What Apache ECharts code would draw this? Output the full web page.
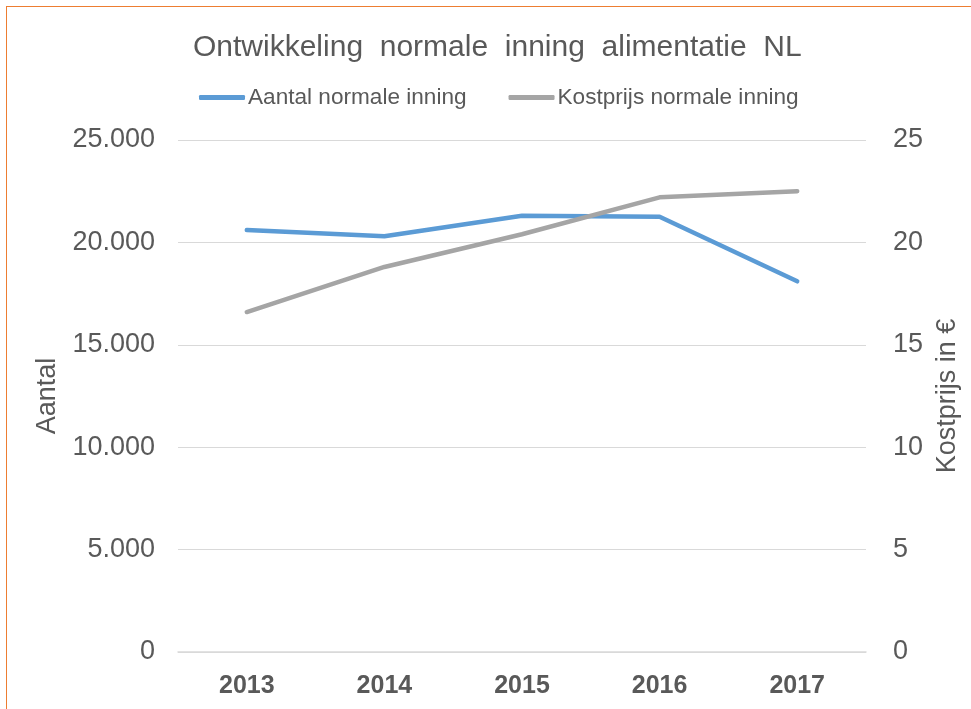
<!DOCTYPE html>
<html>
<head>
<meta charset="utf-8">
<script src="https://cdn.jsdelivr.net/npm/echarts@6/dist/echarts.min.js"></script>
<style>
  html, body { margin: 0; padding: 0; background: #fff; }
  #frame { position: absolute; left: 6px; top: 6px; width: 1000px; height: 800px;
           border-top: 1.5px solid #ED7D31; border-left: 1.5px solid #ED7D31; }
  #chart { position: absolute; left: 0; top: 0; width: 971px; height: 709px; }
</style>
</head>
<body>
<div id="frame"></div>
<div id="chart"></div>
<script>
// data
const years = ['2013', '2014', '2015', '2016', '2017']
const aantal = [20600, 20300, 21300, 21250, 18100]
const kostprijs = [16.6, 18.8, 20.4, 22.2, 22.5]

function dotThousands(v) {
  return String(v).replace(/\B(?=(\d{3})+(?!\d))/g, '.')
}

const font = 'Liberation Sans, Arial, sans-serif'
const textColor = '#595959'

let myChart = echarts.init(document.getElementById('chart'))
myChart.setOption({
  animation: false,
  textStyle: {fontFamily: font},
  title: {
    text: 'Ontwikkeling  normale  inning  alimentatie  NL',
    left: 188,
    top: 28,
    textStyle: {fontFamily: font, fontSize: 30, fontWeight: 'normal', color: textColor}
  },
  legend: {
    top: 81,
    left: 194,
    itemWidth: 46,
    itemHeight: 5,
    itemGap: 42,
    icon: 'roundRect',
    textStyle: {fontFamily: font, fontSize: 22.6, color: textColor, padding: [0, 0, 0, -2]},
    data: ['Aantal normale inning', 'Kostprijs normale inning']
  },
  grid: {left: 178, right: 105, top: 140, bottom: 57},
  xAxis: {
    type: 'category',
    data: years,
    axisTick: {show: false},
    axisLine: {lineStyle: {color: '#d9d9d9', width: 1.5}},
    axisLabel: {
      margin: 22,
      fontFamily: font,
      fontSize: 25, fontWeight: 'bold', color: textColor
    }
  },
  yAxis: [
    {
      type: 'value',
      min: 0, max: 25000, interval: 5000,
      name: 'Aantal',
      nameLocation: 'middle',
      nameGap: 116,
      nameTextStyle: {fontFamily: font, fontSize: 27, color: textColor},
      axisLine: {show: false},
      axisTick: {show: false},
      splitLine: {lineStyle: {color: '#d9d9d9', width: 1.2}},
      axisLabel: {
        margin: 23, fontFamily: font, fontSize: 27, color: textColor,
        formatter: dotThousands
      }
    },
    {
      type: 'value',
      min: 0, max: 25, interval: 5,
      name: 'Kostprijs in €',
      nameLocation: 'middle',
      nameGap: 66,
      nameTextStyle: {fontFamily: font, fontSize: 27, color: textColor},
      axisLine: {show: false},
      axisTick: {show: false},
      splitLine: {show: false},
      axisLabel: {margin: 27, fontFamily: font, fontSize: 27, color: textColor}
    }
  ],
  series: [
    {
      name: 'Aantal normale inning',
      type: 'line',
      yAxisIndex: 0,
      data: aantal,
      showSymbol: false,
      itemStyle: {color: '#5B9BD5'},
      lineStyle: {color: '#5B9BD5', width: 4.5, cap: 'round'}
    },
    {
      name: 'Kostprijs normale inning',
      type: 'line',
      yAxisIndex: 1,
      data: kostprijs,
      showSymbol: false,
      itemStyle: {color: '#A5A5A5'},
      lineStyle: {color: '#A5A5A5', width: 4.5, cap: 'round'}
    }
  ]
})
</script>
</body>
</html>
